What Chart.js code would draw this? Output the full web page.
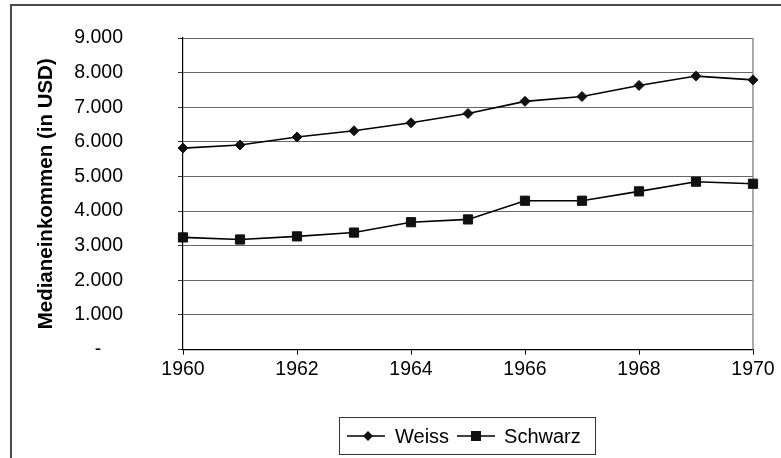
<!DOCTYPE html>
<html>
<head>
<meta charset="utf-8">
<script src="https://cdn.jsdelivr.net/npm/chart.js@4.4.1/dist/chart.umd.min.js"></script>
<style>
  html, body { margin: 0; padding: 0; background: #fff; }
  #wrap { position: relative; width: 781px; height: 458px; overflow: hidden; font-family: "Liberation Sans", Arial, sans-serif; }
  #c { position: absolute; left: 0; top: 0; }
  .frameTop { position: absolute; left: 10px; top: 4px; width: 771px; height: 2px; background: #4a4a4a; }
  .frameLeft { position: absolute; left: 10px; top: 4px; width: 2px; height: 454px; background: #4a4a4a; }
  #legend { position: absolute; left: 339px; top: 417px; width: 257px; height: 38px; box-sizing: border-box;
            border: 1px solid #333; display: flex; align-items: center; font-size: 20px; color: #000; }
  #legend .item { display: flex; align-items: center; }
  #legend svg { display: block; }
</style>
</head>
<body>
<div id="wrap">
  <canvas id="c" width="781" height="458"></canvas>
  <div class="frameTop"></div>
  <div class="frameLeft"></div>
  <div id="legend"></div>
</div>
<script>
// ---- data ----
const years = [1960, 1961, 1962, 1963, 1964, 1965, 1966, 1967, 1968, 1969, 1970];
const weiss = [5820, 5910, 6140, 6320, 6550, 6820, 7170, 7310, 7630, 7900, 7790];
const schwarz = [3240, 3180, 3270, 3380, 3680, 3760, 4300, 4300, 4570, 4850, 4790];
const seriesNames = ['Weiss', 'Schwarz'];
const xTickValues = [1960, 1962, 1964, 1966, 1968, 1970];
const xTickLabels = ['1960', '1962', '1964', '1966', '1968', '1970'];
const yTickValues = [0, 1000, 2000, 3000, 4000, 5000, 6000, 7000, 8000, 9000];
const yTickLabels = ['-    ', '1.000', '2.000', '3.000', '4.000', '5.000', '6.000', '7.000', '8.000', '9.000'];
const yTitle = 'Medianeinkommen (in USD)';

const FONT = '"Liberation Sans", Arial, sans-serif';

const rightBorder = {
  id: 'rightBorder',
  beforeDatasetsDraw(chart) {
    const {ctx, chartArea: a} = chart;
    ctx.save();
    ctx.strokeStyle = '#8c8c8c';
    ctx.lineWidth = 1.5;
    ctx.beginPath();
    ctx.moveTo(a.right, a.top);
    ctx.lineTo(a.right, a.bottom);
    ctx.stroke();
    ctx.restore();
  }
};

const toPts = (vals) => years.map((y, i) => ({x: y, y: vals[i]}));

new Chart(document.getElementById('c'), {
  type: 'line',
  data: {
    datasets: [
      { label: seriesNames[0], data: toPts(weiss), borderColor: '#000', backgroundColor: '#111',
        borderWidth: 1.6, pointStyle: 'rectRot', pointRadius: 5, pointBorderWidth: 1,
        pointBorderColor: '#111', pointBackgroundColor: '#111', tension: 0, clip: false },
      { label: seriesNames[1], data: toPts(schwarz), borderColor: '#000', backgroundColor: '#111',
        borderWidth: 1.6, pointStyle: 'rect', pointRadius: 6.5, pointBorderWidth: 1,
        pointBorderColor: '#111', pointBackgroundColor: '#111', tension: 0, clip: false }
    ]
  },
  options: {
    responsive: false,
    animation: false,
    devicePixelRatio: 1,
    layout: { padding: { left: 30.5, top: 38, right: 28, bottom: 74 } },
    plugins: { legend: { display: false }, tooltip: { enabled: false } },
    scales: {
      x: {
        type: 'linear', min: 1960, max: 1970,
        afterBuildTicks: (s) => { s.ticks = xTickValues.map(v => ({value: v})); },
        afterFit: (s) => { s.paddingLeft = 0; s.paddingRight = 0; },
        ticks: { callback: (v) => xTickLabels[xTickValues.indexOf(v)] ?? '', color: '#000',
                 font: { family: FONT, size: 19.5 }, padding: 3, maxRotation: 0, autoSkip: false },
        grid: { drawOnChartArea: false, drawTicks: true, tickLength: 5, color: '#000', tickColor: '#000' },
        border: { color: '#000', width: 1.2 }
      },
      y: {
        min: 0, max: 9000,
        afterBuildTicks: (s) => { s.ticks = yTickValues.map(v => ({value: v})); },
        afterFit: (s) => { s.width = 183 - 30.5; s.paddingTop = 0; s.paddingBottom = 0; },
        ticks: { callback: (v) => yTickLabels[yTickValues.indexOf(v)] ?? '', color: '#000',
                 font: { family: FONT, size: 19.5 }, padding: 55, autoSkip: false },
        grid: { color: '#666', tickColor: '#333', tickLength: 5, lineWidth: 1 },
        border: { color: '#000', width: 1.2 },
        title: { display: true, text: yTitle, color: '#000',
                 font: { family: FONT, size: 20.5, weight: 'bold' }, padding: { top: 4, bottom: 4 } }
      }
    }
  },
  plugins: [rightBorder]
});

// ---- HTML legend (line + marker symbols) ----
const legend = document.getElementById('legend');
function symbol(kind) {
  const shape = kind === 'diamond'
    ? '<polygon points="21,13 26,18 21,23 16,18" fill="#111"/>'
    : '<rect x="14" y="13" width="10" height="10" fill="#111"/>';
  return '<svg width="38" height="36" viewBox="0 0 38 36"><line x1="0" y1="18" x2="38" y2="18" stroke="#000" stroke-width="1.6"/>' + shape + '</svg>';
}
const items = [
  { name: seriesNames[0], kind: 'diamond', ml: 7, gap: 10 },
  { name: seriesNames[1], kind: 'square', ml: 8, gap: 9 }
];
items.forEach(it => {
  const d = document.createElement('div');
  d.className = 'item';
  d.style.marginLeft = it.ml + 'px';
  d.innerHTML = symbol(it.kind) + '<span style="margin-left:' + it.gap + 'px">' + it.name + '</span>';
  legend.appendChild(d);
});
</script>
</body>
</html>
